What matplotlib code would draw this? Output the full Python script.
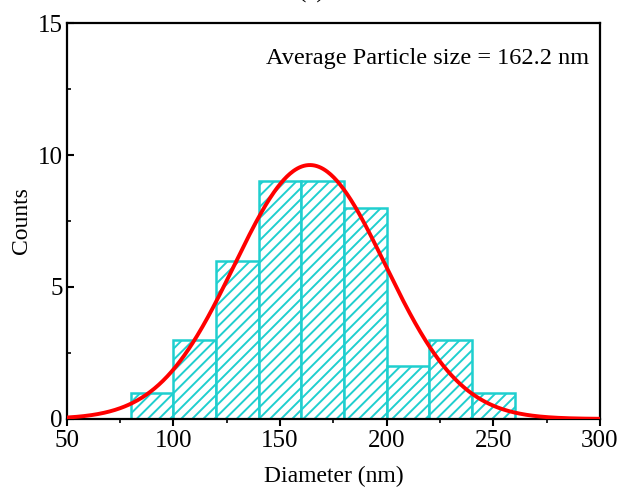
import numpy as np
import matplotlib
matplotlib.use("Agg")
import matplotlib.pyplot as plt

# histogram bins (nm) and counts
bin_left = [80, 100, 120, 140, 160, 180, 200, 220, 240]
bin_width = 20
counts = [1, 3, 6, 9, 9, 8, 2, 3, 1]

# gaussian fit parameters
fit_center = 164.0
fit_sigma = 35.4
fit_amp = 9.62

plt.rcParams['font.family'] = ['Liberation Serif', 'DejaVu Serif']
plt.rcParams['hatch.linewidth'] = 1.4

fig = plt.figure(figsize=(6.19, 4.9), dpi=100)
ax = fig.add_axes([0.108, 0.145, 0.861, 0.808])

cyan = '#1fcfcf'
ax.bar(bin_left, counts, width=bin_width, align='edge', facecolor='white',
       edgecolor=cyan, linewidth=1.8, hatch='///', zorder=2)

xs = np.linspace(50, 300, 500)
ys = fit_amp * np.exp(-(xs - fit_center) ** 2 / (2 * fit_sigma ** 2))
ax.plot(xs, ys, color='red', linewidth=2.8, zorder=3)

ax.set_xlim(50, 300)
ax.set_ylim(0, 15)
ax.set_xticks([50, 100, 150, 200, 250, 300])
ax.set_xticks([75, 125, 175, 225, 275], minor=True)
ax.set_yticks([0, 5, 10, 15])
ax.set_yticks([2.5, 7.5, 12.5], minor=True)
ax.tick_params(axis='x', which='both', direction='out', labelsize=18)
ax.tick_params(axis='y', which='both', direction='in', labelsize=18)
ax.tick_params(which='major', length=5, width=1.5, pad=3)
ax.tick_params(which='minor', length=3, width=1.2)
for s in ax.spines.values():
    s.set_linewidth(1.6)

ax.set_xlabel('Diameter (nm)', fontsize=17, labelpad=10)
ax.set_ylabel('Counts', fontsize=17, labelpad=4)

ax.text(0.98, 0.91, 'Average Particle size = 162.2 nm', transform=ax.transAxes,
        ha='right', va='center', fontsize=17.5)

# panel label, cut off by the top edge as in the source figure
fig.text(0.503, 1.004, '(a)', ha='center', va='baseline', fontsize=18)

fig.savefig('out.png', dpi=100)
